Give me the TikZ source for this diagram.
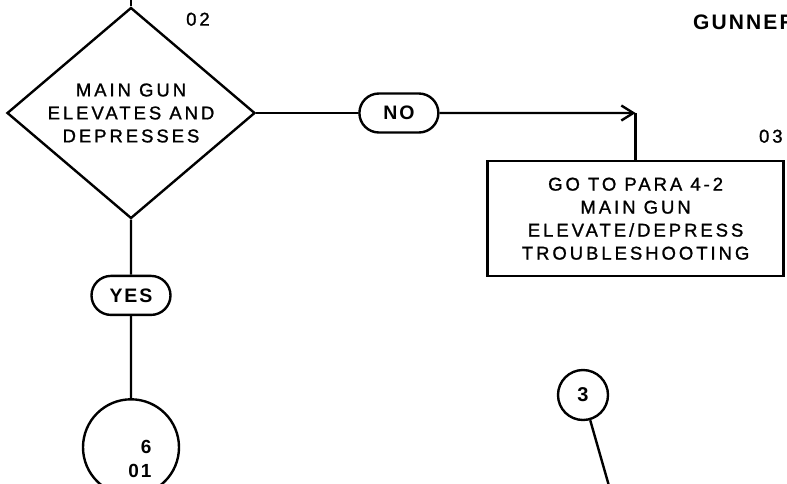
\documentclass[tikz,border=0pt]{standalone}
\usepackage{fontspec}
\setmainfont{Liberation Sans}
\newfontfamily\platefont{Liberation Sans}[LetterSpace=16,FakeBold=1.2]
\newfontfamily\ansfont{Liberation Sans}[LetterSpace=10]
\usetikzlibrary{arrows.meta,positioning,shapes.geometric,shapes.misc}

\begin{document}
\begin{tikzpicture}[
  x=1pt, y=-1pt, line width=2.4pt,
  txt/.style={font=\platefont\fontsize{18.5}{23}\selectfont,align=center},
  dec/.style={txt,draw,diamond,aspect=1.175,inner sep=-4pt,
              minimum width=248pt,minimum height=211pt},
  act/.style={txt,draw,rectangle,inner sep=0pt,
              minimum width=296pt,minimum height=115pt},
  ans/.style={draw,rounded rectangle,inner sep=0pt,
              font=\ansfont\bfseries\fontsize{19.5}{23}\selectfont,
              minimum width=79pt,minimum height=39pt},
  conn/.style={draw,circle,inner sep=0pt},
  lbl/.style={txt,inner sep=0pt},
  ar/.style={-{Straight Barb[length=12pt,width=15pt]}}]
\useasboundingbox (0,0) rectangle (787,483);
\node[dec] (q02) at (131,113) {MAIN GUN\\ELEVATES AND\\DEPRESSES};
\node[lbl,anchor=south west] (l02) at (185,27) {02};
\node[ans,below=55pt of q02] (yes) {YES};
\node[conn,minimum size=96pt,below=82pt of yes] (ret6) {};
\node[lbl,align=right,font=\ansfont\bfseries\fontsize{19}{24}\selectfont,
      xshift=9pt,yshift=-12pt] (ret6txt) at (ret6) {6\\01};
\node[ans,right=102pt of q02] (no) {NO};
\coordinate[right=196pt of no] (bend);
\node[act,below=47pt of bend] (q03) {GO TO PARA 4-2\\MAIN GUN\\
  ELEVATE/DEPRESS\\TROUBLESHOOTING};
\node[lbl,anchor=south east,xshift=-1pt] (l03) at ([yshift=16pt]q03.north east) {03};
\node[conn,minimum size=50pt,font=\ansfont\bfseries\fontsize{20}{24}\selectfont]
  (ret3) at (583,395) {3};
\coordinate (lead3) at (611,493);
\node[anchor=south west,inner sep=0pt,font=\ansfont\bfseries\fontsize{21}{26}\selectfont]
  (hdr) at (692,31) {GUNNER};
\draw (q02.north) -- ++(0,-10);
\draw (q02) -- (yes); \draw (yes) -- (ret6);
\draw (q02) -- (no); \draw[ar] (no) -- (bend); \draw (bend) -- (q03);
\draw (ret3) -- (lead3);
\end{tikzpicture}
\end{document}
